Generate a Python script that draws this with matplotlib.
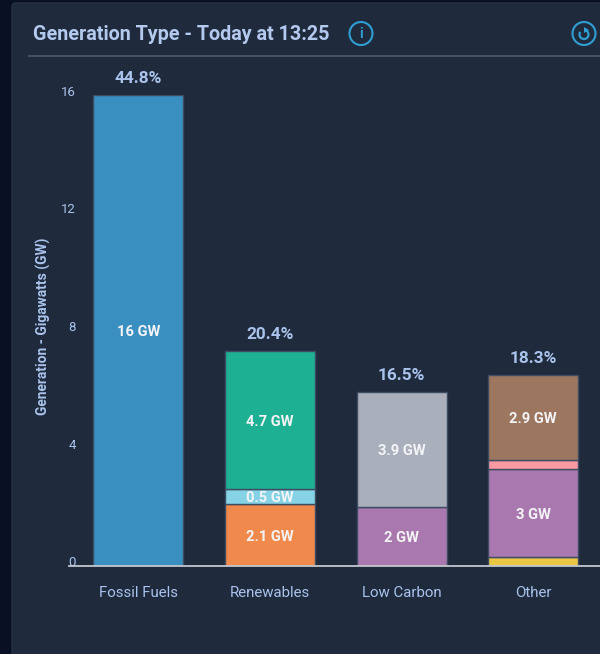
import matplotlib
matplotlib.use("Agg")
import matplotlib.pyplot as plt
from matplotlib.patches import Circle, FancyBboxPatch, Arc, Polygon
from matplotlib.transforms import ScaledTranslation

plt.rcParams['font.family'] = ['Roboto', 'DejaVu Sans']

# Data
categories = ["Fossil Fuels", "Renewables", "Low Carbon", "Other"]
percents = ["44.8%", "20.4%", "16.5%", "18.3%"]
yticks = [0, 4, 8, 12, 16]

fossil_vals = [16]
fossil_cols = ["#3a8fc1"]
fossil_text = ["16 GW"]

renew_vals = [2.1, 0.5, 4.7]
renew_cols = ["#ef8a4c", "#85d3e5", "#1eb093"]
renew_text = ["2.1 GW", "0.5 GW", "4.7 GW"]

low_vals = [2, 3.9]
low_cols = ["#a878ae", "#a9afbb"]
low_text = ["2 GW", "3.9 GW"]

other_vals = [0.3, 3, 0.3, 2.9]
other_cols = ["#eac645", "#a878ae", "#fb9aa2", "#9c765f"]
other_text = ["", "3 GW", "", "2.9 GW"]

stacks = [
    (fossil_vals, fossil_cols, fossil_text),
    (renew_vals, renew_cols, renew_text),
    (low_vals, low_cols, low_text),
    (other_vals, other_cols, other_text),
]

W, H = 600, 654
panel = "#1f2a3c"
label_col = "#a9c3ec"
edge = "#3d4c62"

fig = plt.figure(figsize=(W / 100, H / 100), dpi=100, facecolor="#0a1024")

# background layer in pixel coords, y pointing down
bg = fig.add_axes([0, 0, 1, 1])
bg.set_xlim(0, W)
bg.set_ylim(H, 0)
bg.axis("off")
bg.add_patch(FancyBboxPatch((12, 3), 700, 800, boxstyle="round,pad=0,rounding_size=4",
                            fc=panel, ec="#273346", lw=1))
bg.plot([29, 600], [55.5, 55.5], color="#4a566b", lw=1.3)
bg.text(33, 34, "Generation Type - Today at 13:25", color="#b4c9ee", fontsize=14.2,
        fontweight="bold", va="center", ha="left")

# info icon
bg.add_patch(Circle((361, 33.5), 11.5, fc="none", ec="#2f9fd3", lw=1.5))
bg.text(361, 34, "i", color="#2f9fd3", fontsize=10, fontweight="bold", ha="center", va="center")
# refresh icon
bg.add_patch(Circle((584, 33.5), 11.5, fc="none", ec="#2f9fd3", lw=1.5))
bg.add_patch(Arc((584, 34.5), 9, 9, theta1=-70, theta2=215, color="#2f9fd3", lw=1.6))
bg.add_patch(Polygon([[584, 27], [589, 30], [584, 33]], closed=True, fc="#2f9fd3", ec="none"))

# chart axes: y=0 at 566px, y=16 at 95px
left, right, top, bottom = 69, 600, 95, 566
ax = fig.add_axes([left / W, 1 - bottom / H, (right - left) / W, (bottom - top) / H])
ax.set_facecolor("none")
ax.set_xlim(-0.526, 3.507)
ax.set_ylim(0, 16)

bar_w = 90 / 131.67
for i, (vals, cols, texts) in enumerate(stacks):
    base = 0
    for v, c, t in zip(vals, cols, texts):
        ax.bar(i, v, bottom=base, width=bar_w, color=c, edgecolor=edge, linewidth=1, zorder=2)
        if t:
            ax.text(i, base + v / 2, t, color="#f4f4f6", fontsize=10.6, fontweight="bold",
                    ha="center", va="center_baseline", zorder=3)
        base += v
    ax.annotate(percents[i], (i, base), xytext=(0, 9), textcoords="offset pixels",
                color=label_col, fontsize=12.4, fontweight="bold", ha="center", va="bottom")

for s in ["top", "right", "left"]:
    ax.spines[s].set_visible(False)
ax.spines["bottom"].set_color("#c4c8cf")
ax.spines["bottom"].set_linewidth(1.3)
ax.spines["bottom"].set_zorder(4)

ax.set_xticks(range(len(categories)))
ax.set_xticklabels(categories, color=label_col, fontsize=10.8)
ax.set_yticks(yticks)
ax.set_yticklabels([str(t) for t in yticks], color=label_col, fontsize=9.5, va="center")
ax.tick_params(axis="x", length=0, pad=14.2)
ax.tick_params(axis="y", length=0, pad=-5)
# y labels sit a little above their gridline in the reference
for lab in ax.get_yticklabels():
    lab.set_transform(lab.get_transform() + ScaledTranslation(0, 3 / 100, fig.dpi_scale_trans))

bg.text(43.5, 326, "Generation - Gigawatts (GW)", color=label_col, fontsize=9.9, fontweight="bold",
        rotation=90, ha="center", va="center")

fig.savefig("out.png", dpi=100, facecolor=fig.get_facecolor())
